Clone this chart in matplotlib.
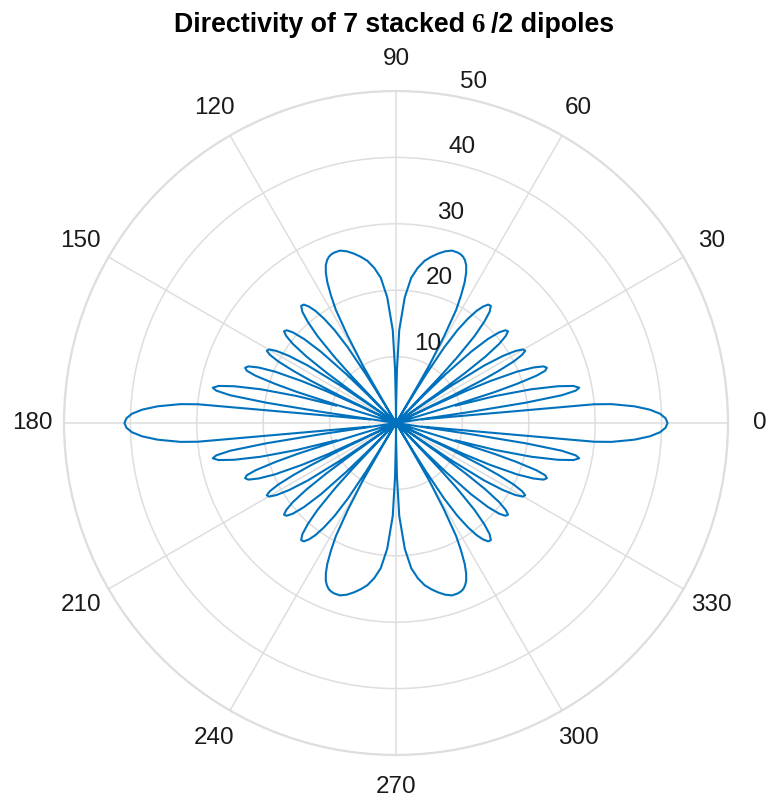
import numpy as np
import matplotlib
matplotlib.use("Agg")
import matplotlib.pyplot as plt
from matplotlib.transforms import ScaledTranslation
from matplotlib.offsetbox import TextArea, HPacker, AnchoredOffsetbox

# Directivity pattern of the array, one quadrant (angle in degrees from the
# horizontal, value); the pattern is mirror-symmetric about both axes.
main_deg = [0, 1, 2, 3, 4, 5, 5.4, 7.9]
main_val = [40.9, 40.6, 39.8, 38.3, 36.0, 32.6, 30.0, 4.0]

lobe1_deg = [8.25, 8.5, 8.9, 9.5, 10.2, 10.9, 11.8, 12.8, 14.0, 15.2, 16.2]
lobe1_val = [0, 11.6, 19.8, 25.3, 27.5, 28.1, 27.3, 25.0, 21.0, 15.5, 9.4]

lobe2_deg = [16.65, 16.95, 17.4, 17.9, 18.6, 19.3, 20.1, 21.0, 22.0, 23.0,
             24.0, 24.6, 25.0, 25.38]
lobe2_val = [0, 8.8, 15.5, 19.0, 22.3, 23.8, 24.2, 23.8, 22.3, 19.8, 15.5,
             11.5, 5.4, 0]

lobe3_deg = [25.4, 25.9, 26.4, 26.9, 27.6, 28.4, 29.2, 30.1, 31.1, 32.1, 33.1,
             34.0, 34.5, 34.8]
lobe3_val = [0, 9.6, 14.4, 17.3, 20.0, 21.6, 22.3, 22.1, 21.0, 19.0, 15.8,
             10.0, 2.7, 0]

lobe4_deg = [34.9, 35.4, 35.9, 36.6, 37.5, 38.4, 39.3, 40.3, 41.3, 42.4, 43.5,
             44.5, 45.0, 45.3]
lobe4_val = [0, 8.0, 12.8, 16.8, 19.6, 21.1, 21.8, 21.6, 20.7, 18.8, 15.6,
             10.5, 5.9, 0]

lobe5_deg = [45.7, 46.0, 46.5, 47.0, 47.9, 48.9, 49.9, 51.0, 52.1, 53.2, 54.3,
             55.4, 56.5, 57.5, 58.3, 58.7, 59.0]
lobe5_val = [0, 3.0, 9.8, 13.5, 17.6, 20.2, 21.9, 22.7, 22.6, 21.9, 20.8, 19.1,
             16.8, 13.5, 8.5, 4.0, 0]

lobe6_deg = [59.1, 59.5, 60, 61, 62, 63, 64, 65, 66, 67, 68, 69, 70, 71, 72,
             73, 74, 75, 76, 78, 80, 82, 84, 86, 88, 89, 89.5, 89.8]
lobe6_val = [0, 3.9, 10.0, 15.0, 19.3, 21.6, 23.6, 25.0, 26.0, 26.6, 27.0,
             27.2, 27.3, 27.3, 27.3, 27.1, 26.9, 26.6, 26.3, 25.6, 24.8, 23.6,
             22.0, 19.0, 14.0, 8.0, 3.0, 0]

theta_ticks = [0, 30, 60, 90, 120, 150, 180, 210, 240, 270, 300, 330]
r_ticks = [10, 20, 30, 40, 50]
r_max = 50

title_left = "Directivity of 7 stacked"
title_sym = "6"
title_right = "/2 dipoles"

LINE = "#0072BD"
GRID = "#DEDEDE"
TEXT = "#1A1A1A"

# assemble the full pattern by mirroring the quadrant
thetas, radii = [], []


def add(deg, val):
    thetas.extend(list(deg) + [np.nan])
    radii.extend(list(val) + [np.nan])


main_loop_deg = [-d for d in main_deg[::-1]] + main_deg[1:]
main_loop_val = main_val[::-1] + main_val[1:]
add(main_loop_deg, main_loop_val)
add([180 - d for d in main_loop_deg], main_loop_val)

for deg, val in [(lobe1_deg, lobe1_val), (lobe2_deg, lobe2_val),
                 (lobe3_deg, lobe3_val), (lobe4_deg, lobe4_val),
                 (lobe5_deg, lobe5_val), (lobe6_deg, lobe6_val)]:
    add(deg, val)
    add([-d for d in deg], val)
    add([180 - d for d in deg], val)
    add([180 + d for d in deg], val)

fig = plt.figure(figsize=(7.69, 8.02), dpi=100)
cx, cy, R = 396, 423, 332
W, H = 769, 802
ax = fig.add_axes([(cx - R) / W, (H - cy - R) / H, 2 * R / W, 2 * R / H],
                  projection="polar")

ax.plot(np.deg2rad(np.array(thetas, dtype=float)), np.array(radii, dtype=float),
        color=LINE, lw=1.5, solid_joinstyle="round")

ax.set_rlim(0, r_max)
ax.set_thetagrids(theta_ticks, labels=[str(t) for t in theta_ticks],
                  fontsize=17.5, color=TEXT, family="Liberation Sans")
ax.set_rgrids(r_ticks, labels=[""] * len(r_ticks))
ax.grid(True, color=GRID, lw=1.1)
ax.spines["polar"].set_color(GRID)
ax.spines["polar"].set_linewidth(1.6)
ax.tick_params(axis="x", pad=16, length=0)
ax.tick_params(axis="y", length=0)

# radial tick labels beside the 80 degree spoke
off = ScaledTranslation(0.20, 0.14, fig.dpi_scale_trans)
for r in r_ticks:
    ax.text(np.deg2rad(80), r, str(r), transform=ax.transData + off,
            ha="center", va="center", fontsize=17.5, color=TEXT,
            family="Liberation Sans")

# title with the symbol set in a serif face
parts = [
    TextArea(title_left, textprops=dict(fontsize=19.3, fontweight="bold",
                                        family="Liberation Sans", color="black")),
    TextArea(title_sym, textprops=dict(fontsize=19.3, fontweight="bold",
                                       family="Liberation Serif", color="black")),
    TextArea(title_right, textprops=dict(fontsize=19.3, fontweight="bold",
                                         family="Liberation Sans", color="black")),
]
box = HPacker(children=parts, sep=4.5, align="baseline", pad=0)
anchored = AnchoredOffsetbox(loc="center", child=box, frameon=False, pad=0,
                             borderpad=0,
                             bbox_to_anchor=(394 / W, 1 - 25 / H),
                             bbox_transform=fig.transFigure)
fig.add_artist(anchored)

fig.savefig("out.png", dpi=100, facecolor="white")
